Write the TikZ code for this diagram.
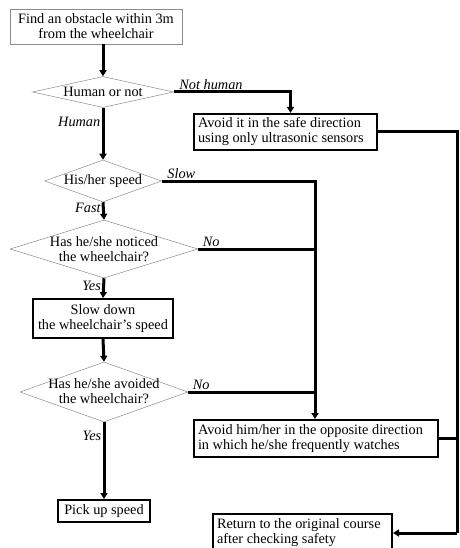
\documentclass[tikz,border=0pt]{standalone}
\usepackage{fontspec}
\setmainfont{Liberation Serif}
\usetikzlibrary{shapes.geometric,arrows.meta,calc}
\begin{document}
\begin{tikzpicture}[x=1pt,y=-1pt,
  every node/.style={font=\fontsize{14.3}{15}\selectfont},
  thinbox/.style={draw=black!45,line width=0.6pt,inner sep=3pt,align=center},
  thickbox/.style={draw=black,line width=2pt,inner sep=4pt},
  dia/.style={shape=diamond,draw=black!45,line width=0.5pt,inner sep=0pt},
  conn/.style={draw=black,line width=3pt},
  arr/.style={conn,-{Triangle[length=6pt,width=7pt]}},
  lab/.style={font=\fontsize{14.3}{15}\selectfont\itshape,inner sep=1.2pt}
]
\useasboundingbox (0,0) rectangle (459,548);
\clip (0,0) rectangle (459,548);

% nodes
\node[thinbox,minimum width=172pt,minimum height=35pt] (b1) at (96,26.5)
  {Find an obstacle within 3m\\from the wheelchair};
\node[dia,minimum width=141pt,minimum height=31pt] (d1) at (103,92) {};
\node (t1) at (d1) {Human or not};
\node[thickbox,minimum width=183pt,minimum height=36pt,text width=175pt,align=flush left] (b2) at (285.5,132)
  {Avoid it in the safe direction\\using only ultrasonic sensors};
\node[dia,minimum width=117pt,minimum height=42pt] (d2) at (103,181) {};
\node (t2) at (d2) {His/her speed};
\node[dia,minimum width=188pt,minimum height=58pt] (d3) at (104,249) {};
\node[align=center] (t3) at (d3) {Has he/she noticed\\the wheelchair?};
\node[thickbox,minimum width=140pt,minimum height=39pt,align=center,inner sep=2pt] (b4) at (103,318.5)
  {Slow down\\the wheelchair's speed};
\node[dia,minimum width=168pt,minimum height=60pt] (d4) at (104,392) {};
\node[align=center] (t4) at ([yshift=1pt]d4) {Has he/she avoided\\the wheelchair?};
\node[thickbox,minimum width=244pt,minimum height=37pt,text width=236pt,align=flush left] (b3) at (316,438.5)
  {Avoid him/her in the opposite direction\\in which he/she frequently watches};
\node[thickbox,minimum width=92pt,minimum height=22pt,inner sep=1pt] (b5) at (104,511) {Pick up speed};
\node[thickbox,minimum width=179pt,minimum height=38pt,text width=171pt,inner ysep=1pt,align=flush left] (b6) at (302.5,533)
  {Return to the original course\\after checking safety};

\coordinate (rt) at (457,130);
\coordinate (rb) at (457,533);
\coordinate (sv) at ([xshift=-1pt]b3.north);

% connectors
\draw[arr] (b1.south -| d1.north) -- (d1.north);
\draw[arr] (d1.east) -| ([xshift=5pt]b2.north)
  node[lab,pos=0,anchor=south west,xshift=3pt] {Not human};
\draw[arr] (d1.south) -- (d2.north) node[lab,pos=0.28,left] {Human};
\draw[arr] (d2.south) -- (d3.north) node[lab,pos=0.3,left] {Fast};
\draw[arr] (d2.east) -| (sv)
  node[lab,pos=0,anchor=south west,xshift=3pt] {Slow};
\draw[conn] (d3.east) -- (d3.east -| sv)
  node[lab,pos=0,anchor=south west,xshift=2pt] {No};
\draw[arr] (d3.south) -- (b4.north) node[lab,pos=0.4,left] {Yes};
\draw[arr] (b4.south) -- (d4.north);
\draw[conn] (d4.east) -- (d4.east -| sv)
  node[lab,pos=0,anchor=south west,xshift=2pt] {No};
\draw[arr] (d4.south) -- (b5.north) node[lab,pos=0.18,left] {Yes};
\draw[conn] (b2.east) -- (b2.east -| rt) -- (rb);
\draw[conn] (b3.east) -- (b3.east -| rb);
\draw[arr] (rb) -- (rb -| b6.east);
\end{tikzpicture}
\end{document}
